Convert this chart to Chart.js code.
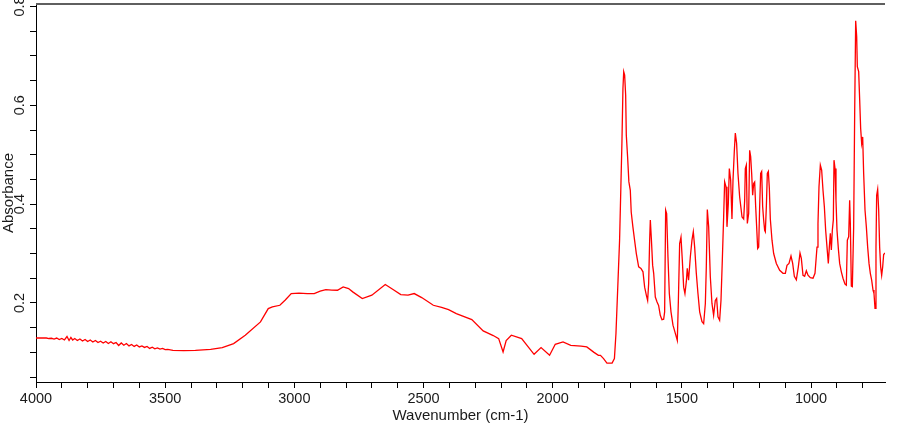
<!DOCTYPE html>
<html><head><meta charset="utf-8">
<script src="https://cdn.jsdelivr.net/npm/chart.js@4.4.1/dist/chart.umd.min.js"></script>
<style>html,body{margin:0;padding:0;background:#fff;}#wrap{width:900px;height:425px;position:relative;}</style>
</head><body><div id="wrap"><canvas id="c" width="900" height="425"></canvas></div>
<script>
const wavenumber = [
4000,3960,3950,3940,3930,3920,3910,3900,3890,3880,3872,3865,3858,3850,3840,3830,3820,3810,3800,3790,3780,3770,3760,3750,3740,3730,3720,3710,3700,3690,3680,3670,3660,3650,3640,3630,3620,3610,3600,3590,3580,3570,3560,3550,3540,3530,3520,3510,3500,3490,3470,3428,3383,3324,3279,3235,3190,3131,3101,3085,3056,3035,3012,2982,2950,2923,2900,2878,2855,2833,2811,2790,2774,2737,2700,2648,2618,2588,2560,2536,2507,2462,2430,2403,2373,2313,2269,2230,2209,2192,2180,2160,2120,2072,2045,2012,1990,1960,1930,1890,1868,1840,1823,1815,
1803,1790,1770,1761,1755,1747,1741,1736,1732,1728,1725,1721.4,1717.5,1715,1710,1705,1699.5,1696,1689.5,1683,1676.2,1667.2,1658.2,1650.4,1644,1637.5,1632.4,1628.5,1624.6,1622,1618,1613,1609,1602.7,1596,1590,1583.4,1577,1570.4,1566.6,1562.7,1558.8,1553.7,1548.5,1542,1534.3,1526.6,1517.6,1513.7,1508.5,1503.3,1498.2,1493,1488,1482.7,1479,1474,1467.2,1460.8,1455.6,1450.4,1444,1437.6,1431,1422,1415.6,1409,1405.3,1401.4,1396.2,1389.8,1383.4,1377,1370.5,1365.3,1360.1,1353.7,1348.5,1343.3,1338.2,1334.3,1329,1325.3,1320.1,1316.2,1311,1306,1302,1297,1293,1288,1282.7,1276.3,1267,
1260.7,1256.8,1254.3,1250.4,1246.5,1241.3,1237.5,1233.6,1229.7,1225.9,1222,1218.1,1214.2,1210.4,1206.5,1202.6,1198.8,1194.9,1191,1187.2,1183.3,1179.4,1176.8,1172.9,1169.1,1165.2,1161.3,1157.5,1151,1144.6,1134.2,1121.3,1108.4,1099.4,1093,1085.2,1077.5,1071,1064.6,1056.8,1049.1,1042.6,1037.5,1031,1024.6,1018.1,1011.7,1002.6,992.3,984.6,976.8,973,969.1,963.9,958.8,953.6,948.4,943.3,938.1,933,929.1,925.2,921.3,917.5,913.6,911,907.1,903.3,899.4,894.2,889.1,882.6,876.2,868.4,863.3,859.4,854.2,850.4,847.8,843.9,840,834.9,831,827.1,823.2,820.7,815.5,811.6,807.8,803.9,800,796.2,791,785.8,780.7,775.5,770.4,765.2,760,756.2,752.3,748.5,745.9,742,738.1,734.3,730.4,726.5,722.6,718.8,713.6
];
const absorbance = [
0.129,0.129,0.128,0.1285,0.127,0.129,0.126,0.128,0.125,0.132,0.124,0.130,0.125,0.128,0.124,0.127,0.123,0.126,0.122,0.125,0.121,0.124,0.120,0.1225,0.119,0.122,0.118,0.1215,0.1175,0.120,0.114,0.119,0.1145,0.118,0.113,0.116,0.112,0.115,0.111,0.113,0.110,0.112,0.108,0.1105,0.107,0.109,0.1065,0.108,0.1055,0.106,0.104,0.1035,0.1042,0.1062,0.1096,0.1177,0.1346,0.1616,0.1886,0.192,0.1953,0.206,0.219,0.220,0.219,0.219,0.224,0.2271,0.226,0.2257,0.2325,0.229,0.2224,0.2089,0.2156,0.2372,0.2271,0.217,0.216,0.219,0.2109,0.1953,0.191,0.1866,0.1785,0.1663,0.1433,0.134,0.1278,0.1008,0.124,0.1346,0.1278,0.0961,0.1096,0.094,0.1163,0.121,0.1143,0.1125,0.1109,0.100,0.094,0.094,
0.0873,0.0784,0.0784,0.0873,0.138,0.246,0.327,0.435,0.523,0.634,0.668,0.661,0.621,0.54,0.496,0.445,0.428,0.384,0.354,0.327,0.300,0.273,0.270,0.263,0.232,0.216,0.205,0.239,0.327,0.368,0.330,0.276,0.260,0.212,0.202,0.195,0.175,0.166,0.167,0.182,0.388,0.381,0.293,0.219,0.182,0.155,0.141,0.124,0.199,0.320,0.333,0.287,0.232,0.219,0.243,0.270,0.246,0.293,0.327,0.344,0.313,0.260,0.219,0.182,0.162,0.158,0.199,0.273,0.389,0.354,0.253,0.199,0.175,0.205,0.209,0.172,0.165,0.205,0.287,0.374,0.445,0.435,0.354,0.401,0.472,0.448,0.370,0.448,0.506,0.544,0.523,0.462,0.415,0.374,
0.370,0.408,0.472,0.479,0.361,0.381,0.509,0.496,0.462,0.418,0.442,0.445,0.395,0.354,0.310,0.313,0.395,0.462,0.466,0.395,0.368,0.347,0.344,0.395,0.462,0.466,0.432,0.370,0.327,0.300,0.280,0.266,0.260,0.260,0.276,0.280,0.295,0.280,0.254,0.247,0.273,0.301,0.290,0.256,0.254,0.265,0.256,0.251,0.250,0.260,0.313,0.361,0.435,0.479,0.469,0.428,0.395,0.347,0.313,0.280,0.313,0.341,0.307,0.347,0.368,0.489,0.472,0.408,0.347,0.310,0.280,0.263,0.250,0.238,0.236,0.327,0.334,0.408,0.361,0.234,0.233,0.354,0.584,0.771,0.739,0.678,0.668,0.611,0.553,0.523,0.536,0.462,0.388,0.354,0.313,0.280,0.260,0.246,0.226,0.219,0.189,0.313,0.418,0.430,0.388,0.313,0.273,0.256,0.273,0.298,0.301
];
const xTickLabels = [4000,3500,3000,2500,2000,1500,1000];
const yTickLabels = [0.2,0.4,0.6,0.8];
const xTitle = 'Wavenumber (cm-1)';
const yTitle = 'Absorbance';

const FONT = '"Liberation Sans", Arial, sans-serif';
const points = wavenumber.map((w, i) => ({x: w, y: absorbance[i]}));

const framePlugin = {
  id: 'frame',
  afterDraw(chart) {
    const {ctx, chartArea: a, scales} = chart;
    const y = scales.y;
    ctx.save();
    ctx.strokeStyle = '#5f5f5f';
    ctx.lineWidth = 2;
    ctx.beginPath(); ctx.moveTo(a.left, a.top); ctx.lineTo(a.right, a.top); ctx.stroke();
    ctx.fillStyle = '#1a1a1a';
    ctx.font = '14.5px ' + FONT;
    ctx.textAlign = 'center';
    ctx.textBaseline = 'middle';
    yTickLabels.forEach(v => {
      const py = y.getPixelForValue(v);
      ctx.save();
      ctx.translate(20, py);
      ctx.rotate(-Math.PI / 2);
      ctx.fillText(v.toFixed(1), 0, 0);
      ctx.restore();
    });
    ctx.restore();
  }
};

new Chart(document.getElementById('c'), {
  type: 'line',
  data: { datasets: [{ data: points, borderColor: '#ff0000', borderWidth: 1.3, pointRadius: 0, tension: 0, fill: false }] },
  options: {
    responsive: false, animation: false, devicePixelRatio: 1,
    layout: { padding: { top: 4, right: 15, left: 0, bottom: 0 } },
    plugins: { legend: { display: false }, tooltip: { enabled: false } },
    scales: {
      x: {
        type: 'linear', reverse: true, min: 713.6, max: 4000,
        ticks: {
          stepSize: 100, includeBounds: false, autoSkip: false, maxRotation: 0, minRotation: 0, padding: 2,
          color: '#1a1a1a', font: { family: FONT, size: 14.5 },
          callback: v => xTickLabels.includes(Math.round(v)) ? String(Math.round(v)) : ''
        },
        grid: { display: true, drawOnChartArea: false, drawTicks: true, tickLength: 6, color: '#000', tickColor: '#000', tickWidth: 1 },
        border: { display: true, color: '#000', width: 1 },
        title: { display: true, text: xTitle, color: '#1a1a1a', font: { family: FONT, size: 15 }, padding: 0 },
        afterFit: s => { s.height = 43; }
      },
      y: {
        type: 'linear', min: 0.04, max: 0.805,
        ticks: { display: false, stepSize: 0.05, includeBounds: false },
        grid: { display: true, drawOnChartArea: false, drawTicks: true, tickLength: 6, color: '#000', tickColor: '#000', tickWidth: 1 },
        border: { display: true, color: '#000', width: 1 },
        title: { display: true, text: yTitle, color: '#1a1a1a', font: { family: FONT, size: 15 }, padding: 0 },
        afterFit: s => { s.width = 36; }
      }
    }
  },
  plugins: [framePlugin]
});
</script>
</body></html>
